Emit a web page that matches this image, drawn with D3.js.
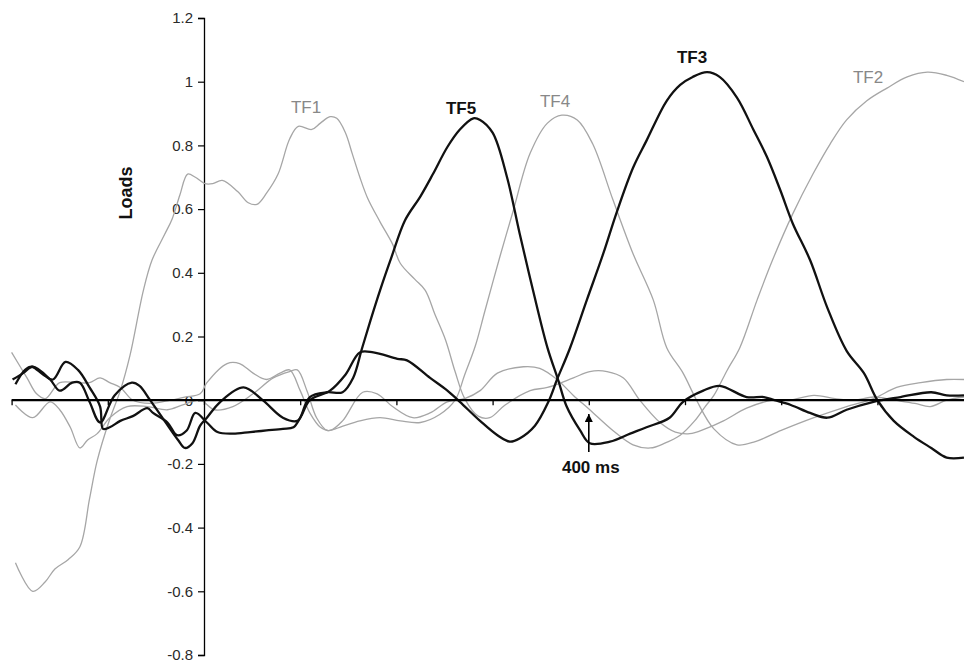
<!DOCTYPE html>
<meta charset="utf-8">
<title>Temporal factor loads</title>
<style>
  body { margin: 0; background: #fff; }
  text { font-family: Arial, "Liberation Sans", sans-serif; }
</style>
<body>
<script src="https://d3js.org/d3.v7.min.js"></script>
<script>

var width = 964,
    height = 660;

// time in ms, loads
var tf1 = [[-196,-0.51],[-178,-0.60],[-165,-0.57],[-155,-0.53],[-141,-0.50],[-129,-0.46],[-119,-0.31],[-111,-0.19],
  [-98,-0.06],[-87,0.03],[-77,0.14],[-63,0.345],[-54,0.44],[-41,0.52],[-33,0.57],[-25,0.645],[-17,0.71],[-9,0.70],
  [1,0.68],[9,0.68],[19,0.69],[35,0.655],[46,0.62],[55,0.615],[65,0.65],[77,0.71],[89,0.82],[98,0.86],[112,0.85],
  [121,0.87],[131,0.89],[138,0.885],[147,0.84],[154,0.775],[162,0.70],[170,0.635],[183,0.56],[196,0.49],[204,0.43],
  [219,0.38],[230,0.345],[240,0.27],[251,0.19],[261,0.09],[271,0.005],[285,-0.05],[297,-0.055],[313,-0.015],
  [339,0.03],[357,0.04],[384,0.07],[401,0.09],[419,0.09],[436,0.07],[453,0],[474,-0.07],[490,-0.10],[505,-0.105],
  [521,-0.09],[540,-0.065],[564,-0.025],[591,0],[609,0],[634,0.015],[656,0.005],[676,0],[696,0.01],[718,0],
  [739,-0.01],[755,-0.02],[772,0],[790,0.01]];

var tf2 = [[-200,0.15],[-184,0.07],[-174,0.02],[-165,0.005],[-150,0.055],[-132,0.055],[-119,0.055],[-108,0.07],
  [-98,0.055],[-87,0.04],[-74,0],[-56,-0.01],[-35,0],[-20,0.01],[-4,0.02],[3,0.055],[24,0.115],[37,0.115],
  [51,0.085],[65,0.065],[79,0.085],[89,0.095],[100,0.03],[110,-0.04],[121,-0.085],[131,-0.095],[144,-0.065],
  [165,0.025],[180,0.02],[196,-0.02],[217,-0.055],[235,-0.04],[253,-0.005],[271,0.005],[287,0.03],[305,0.085],
  [332,0.105],[349,0.10],[367,0.065],[384,0.015],[401,-0.03],[425,-0.095],[446,-0.14],[464,-0.15],[479,-0.135],
  [495,-0.11],[510,-0.065],[521,-0.02],[530,0.015],[544,0.095],[557,0.165],[575,0.315],[591,0.44],[612,0.585],
  [633,0.71],[651,0.805],[668,0.88],[689,0.94],[710,0.98],[731,1.015],[752,1.03],[772,1.02],[790,1.0]];

var tf3 = [[-199,0.065],[-188,0.085],[-178,0.105],[-160,0.065],[-150,0.03],[-137,0.055],[-129,0.055],[-119,-0.005],
  [-108,-0.07],[-93,0.015],[-75,0.055],[-67,0.045],[-56,0],[-41,-0.065],[-27,-0.125],[-20,-0.15],[-12,-0.135],
  [-4,-0.08],[3,-0.055],[17,-0.005],[41,0.04],[61,0],[82,-0.055],[97,-0.065],[110,0],[131,0.03],[147,0.08],
  [162,0.15],[176,0.15],[201,0.13],[211,0.125],[235,0.07],[253,0.03],[266,-0.005],[287,-0.065],[305,-0.11],
  [318,-0.13],[328,-0.12],[344,-0.08],[358,-0.005],[367,0.065],[380,0.16],[398,0.315],[415,0.46],[429,0.59],
  [446,0.73],[460,0.815],[481,0.94],[495,0.99],[508,1.015],[523,1.03],[536,1.015],[554,0.95],[571,0.85],
  [585,0.765],[599,0.66],[612,0.555],[630,0.44],[648,0.29],[668,0.155],[686,0.085],[700,0],[717,-0.065],
  [738,-0.115],[756,-0.15],[772,-0.18],[790,-0.18]];

var tf4 = [[-196,-0.015],[-178,-0.055],[-160,-0.005],[-150,-0.03],[-139,-0.085],[-129,-0.15],[-121,-0.125],
  [-111,-0.105],[-98,-0.055],[-80,-0.02],[-59,-0.02],[-38,-0.03],[-22,-0.015],[-4,0],[11,-0.03],[30,-0.02],
  [51,0.02],[72,0.07],[89,0.09],[97,0.095],[107,0.03],[117,-0.055],[128,-0.095],[141,-0.085],[162,-0.065],
  [183,-0.055],[204,-0.065],[225,-0.07],[245,-0.045],[261,0],[271,0.08],[282,0.17],[292,0.28],[308,0.455],
  [321,0.59],[339,0.775],[357,0.87],[372,0.895],[388,0.88],[404,0.805],[425,0.63],[446,0.46],[467,0.315],
  [481,0.165],[498,0.085],[512,0],[530,-0.09],[554,-0.14],[573,-0.13],[600,-0.095],[634,-0.055],[668,-0.02],
  [696,0.005],[720,0.04],[745,0.055],[772,0.065],[790,0.065]];

var tf5 = [[-196,0.05],[-186,0.095],[-179,0.105],[-167,0.08],[-157,0.065],[-144,0.12],[-131,0.095],[-119,0.04],
  [-108,-0.02],[-105,-0.09],[-98,-0.085],[-87,-0.065],[-74,-0.05],[-59,-0.025],[-53,-0.04],[-38,-0.07],
  [-28,-0.11],[-18,-0.095],[-9,-0.04],[3,-0.07],[14,-0.10],[30,-0.105],[48,-0.10],[65,-0.095],[82,-0.09],
  [93,-0.085],[100,-0.055],[110,0.01],[128,0.025],[144,0.025],[155,0.07],[164,0.16],[173,0.25],[183,0.345],
  [195,0.45],[209,0.565],[225,0.64],[238,0.71],[253,0.795],[266,0.85],[280,0.885],[287,0.88],[300,0.84],
  [315,0.70],[328,0.525],[342,0.345],[357,0.165],[368,0.065],[377,-0.02],[391,-0.095],[401,-0.135],
  [422,-0.13],[443,-0.105],[460,-0.085],[484,-0.055],[498,-0.005],[519,0.03],[536,0.045],[564,0.01],
  [582,0.01],[593,0],[610,-0.015],[630,-0.04],[648,-0.055],[668,-0.03],[696,-0.005],[724,0.01],[756,0.025],
  [772,0.015],[790,0.015]];

var yTicks = [1.2, 1, 0.8, 0.6, 0.4, 0.2, 0, -0.2, -0.4, -0.6, -0.8];
var xTicks = [-200, -100, 0, 100, 200, 300, 400, 500, 600, 700, 800];

var series = [
  {name: "TF1", data: tf1, bold: false, lab: [306, 113]},
  {name: "TF4", data: tf4, bold: false, lab: [555, 107]},
  {name: "TF2", data: tf2, bold: false, lab: [868, 83]},
  {name: "TF5", data: tf5, bold: true, lab: [461, 114]},
  {name: "TF3", data: tf3, bold: true, lab: [692, 63]}
];

var x = d3.scaleLinear().domain([-200, 800]).range([11.6, 973.6]);
var y = d3.scaleLinear().domain([-0.8, 1.2]).range([655, 18]);

var svg = d3.select("body").append("svg")
    .attr("width", width)
    .attr("height", height);

var line = d3.line()
    .x(function(d) { return x(d[0]); })
    .y(function(d) { return y(d[1]); })
    .curve(d3.curveCatmullRom.alpha(0.5));

// y axis (left ticks)
var yAxis = svg.append("g")
    .attr("transform", "translate(" + x(0) + ",0)")
    .call(d3.axisLeft(y).tickValues(yTicks).tickSize(6).tickPadding(5)
      .tickFormat(function(d) { return d === 0 ? "0" : String(d); }));
yAxis.select(".domain").attr("stroke", "#000").attr("stroke-width", 1.3);
yAxis.selectAll(".tick line").attr("stroke", "#000").attr("stroke-width", 1.2);
yAxis.selectAll(".tick text")
    .attr("fill", "#2a2a2a")
    .style("font-size", "15px")
    .style("font-family", "Arial, 'Liberation Sans', sans-serif");

// lines
svg.selectAll("path.tf")
    .data(series)
  .enter().append("path")
    .attr("class", "tf")
    .attr("fill", "none")
    .attr("stroke", function(d) { return d.bold ? "#111" : "#a6a6a6"; })
    .attr("stroke-width", function(d) { return d.bold ? 2.3 : 1.3; })
    .attr("stroke-linejoin", "round")
    .attr("d", function(d) { return line(d.data); });

// x axis at zero, ticks below
var xAxis = svg.append("g")
    .attr("transform", "translate(0," + y(0) + ")")
    .call(d3.axisBottom(x).tickValues(xTicks).tickSize(5).tickFormat(""));
xAxis.select(".domain").attr("stroke", "#000").attr("stroke-width", 2.2)
    .attr("d", "M" + x(-200) + ",0H" + width);
xAxis.selectAll(".tick line").attr("stroke", "#000").attr("stroke-width", 1.3);

// series labels
svg.selectAll("text.lab")
    .data(series)
  .enter().append("text")
    .attr("class", "lab")
    .attr("x", function(d) { return d.lab[0]; })
    .attr("y", function(d) { return d.lab[1]; })
    .attr("text-anchor", "middle")
    .attr("fill", function(d) { return d.bold ? "#111" : "#888"; })
    .style("font-size", "17px")
    .style("font-weight", function(d) { return d.bold ? "bold" : "normal"; })
    .text(function(d) { return d.name; });

// y label
svg.append("text")
    .attr("transform", "translate(132,193) rotate(-90)")
    .attr("text-anchor", "middle")
    .style("font-size", "18px")
    .style("font-weight", "bold")
    .attr("fill", "#111")
    .text("Loads");

// 400 ms annotation
svg.append("defs").append("marker")
    .attr("id", "head")
    .attr("viewBox", "0 0 10 10")
    .attr("refX", 10).attr("refY", 5)
    .attr("markerWidth", 6).attr("markerHeight", 5)
    .attr("orient", "auto")
  .append("path")
    .attr("d", "M0,0L10,5L0,10Z")
    .attr("fill", "#000");

svg.append("line")
    .attr("x1", x(400)).attr("x2", x(400))
    .attr("y1", 452).attr("y2", 414)
    .attr("stroke", "#000")
    .attr("stroke-width", 1.6)
    .attr("marker-end", "url(#head)");

svg.append("text")
    .attr("x", x(400) + 2)
    .attr("y", 473)
    .attr("text-anchor", "middle")
    .style("font-size", "17px")
    .style("font-weight", "bold")
    .attr("fill", "#111")
    .text("400 ms");

</script>
